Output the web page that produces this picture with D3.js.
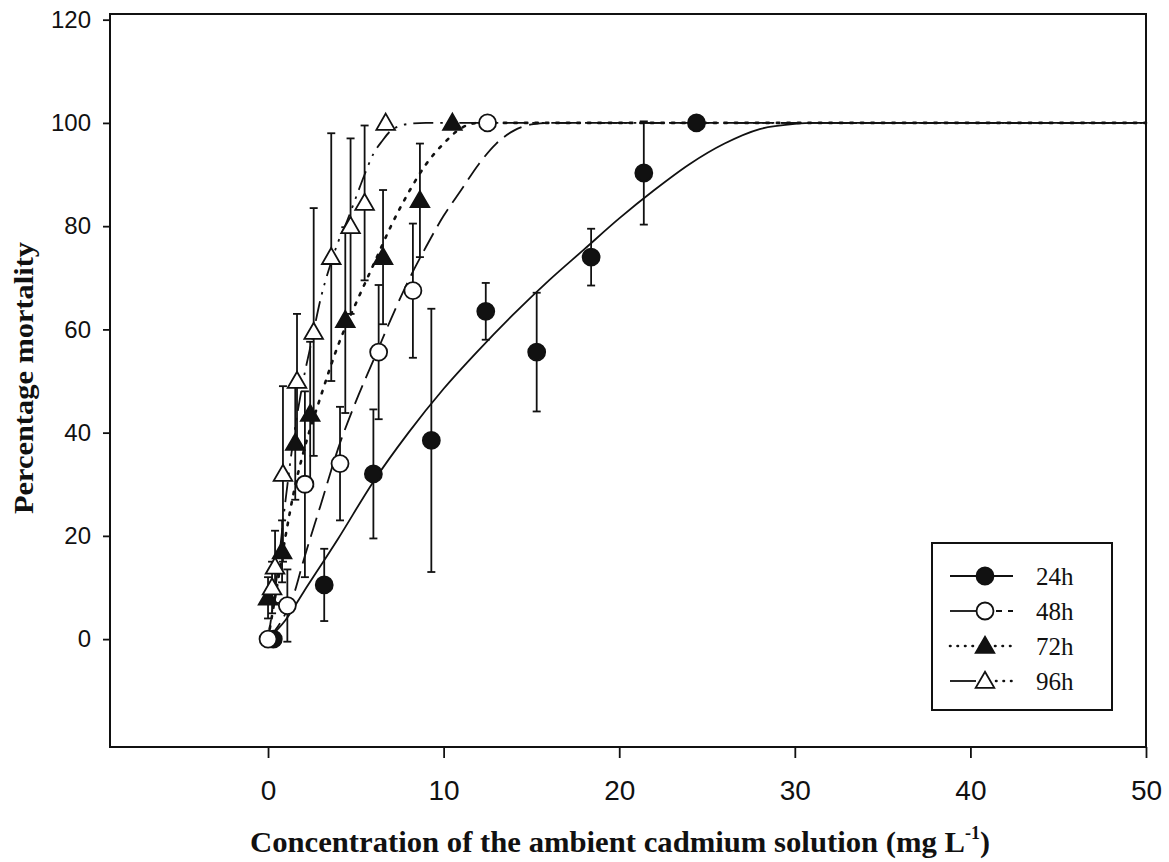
<!DOCTYPE html>
<html>
<head>
<meta charset="utf-8">
<script src="https://cdn.jsdelivr.net/npm/d3@7"></script>
<style>
  body { margin: 0; background: #fff; }
  svg { display: block; }
  .tick text { fill: #111; }
</style>
</head>
<body>
<svg width="1169" height="862"></svg>
<script>
// measured points (concentration mg/L, % mortality, error)
let x24 = [0.3, 3.2, 6.0, 9.3, 12.4, 15.3, 18.4, 21.4, 24.4];
let y24 = [0, 10.5, 32, 38.5, 63.5, 55.6, 74, 90.3, 100];
let e24 = [0, 7, 12.5, 25.5, 5.5, 11.5, 5.5, 10, 0];

let x48 = [0, 1.1, 2.1, 4.1, 6.3, 8.25, 12.5];
let y48 = [0, 6.5, 30, 34, 55.6, 67.5, 100];
let e48 = [0, 7, 18, 11, 13, 13, 0];

let x72 = [0.0, 0.8, 1.55, 2.4, 4.4, 6.55, 8.65, 10.5];
let y72 = [8, 17, 38, 43.6, 61.8, 74, 85, 100];
let e72 = [4, 6, 11, 14, 18, 13, 11, 0];

let x96 = [0.23, 0.4, 0.85, 1.65, 2.6, 3.6, 4.7, 5.5, 6.7];
let y96 = [10, 14, 32, 50, 59.5, 74, 80, 84.5, 100];
let e96 = [5, 7, 17, 13, 24, 24, 17, 15, 0];

// fitted curves
let fit24x = [0, 1, 2, 4, 6, 8, 10, 12, 14, 16, 18, 20, 22, 24, 26, 28, 30, 31, 50];
let fit24y = [0, 3.7, 9, 19.5, 30.5, 40, 48.5, 56, 63, 69.5, 75.5, 81.5, 87, 92, 96, 98.8, 99.8, 100, 100];
let fit48x = [0, 1, 1.5, 2, 3, 4, 5, 6, 7, 8, 9, 10, 11, 12, 13, 14, 15, 16, 50];
let fit48y = [0, 5, 9, 15, 26, 37, 46, 54, 62, 69.5, 76, 82, 87, 92, 96, 98.5, 99.7, 100, 100];
let fit72x = [0, 0.5, 1, 1.5, 2, 3, 4, 5, 6, 7, 8, 9, 10, 11, 12, 50];
let fit72y = [0, 10, 20, 29, 36, 47, 57, 65, 72.5, 80, 86.5, 92, 96, 99, 100, 100];
let fit96x = [0, 0.5, 1, 1.5, 2, 2.5, 3, 3.5, 4, 4.5, 5, 5.5, 6, 6.5, 7, 8, 9, 50];
let fit96y = [0, 12, 27, 40, 50, 58, 66, 72, 77, 81, 85.5, 90, 94, 96.5, 98.5, 99.8, 100, 100];

let seriesNames = ["24h", "48h", "72h", "96h"];
let xTicks = [0, 10, 20, 30, 40, 50];
let yTicks = [0, 20, 40, 60, 80, 100, 120];

function render() {
  let svg = d3.select("svg");
  let ink = "#111";

  let xMin = -9, xMax = 50, yMin = -20.9, yMax = 121.1;
  let xScale = d3.scaleLinear().domain([xMin, xMax]).range([110, 1146]);
  let yScale = d3.scaleLinear().domain([yMin, yMax]).range([747, 14]);

  let series = [
    {name: seriesNames[0], x: x24, y: y24, e: e24, fx: fit24x, fy: fit24y, shape: "circle", fill: ink, dash: null},
    {name: seriesNames[1], x: x48, y: y48, e: e48, fx: fit48x, fy: fit48y, shape: "circle", fill: "#fff", dash: "20,8"},
    {name: seriesNames[2], x: x72, y: y72, e: e72, fx: fit72x, fy: fit72y, shape: "triangle", fill: ink, dash: "2.5,8"},
    {name: seriesNames[3], x: x96, y: y96, e: e96, fx: fit96x, fy: fit96y, shape: "triangle", fill: "#fff", dash: "20,7,2.5,7,2.5,7"},
  ];

  // frame
  svg.append("rect")
    .attr("x", xScale(xMin)).attr("y", yScale(yMax))
    .attr("width", xScale(xMax) - xScale(xMin))
    .attr("height", yScale(yMin) - yScale(yMax))
    .attr("fill", "none").attr("stroke", ink).attr("stroke-width", 2);

  let xAxis = d3.axisBottom(xScale).tickValues(xTicks).tickSize(11).tickSizeOuter(0).tickPadding(22);
  let gX = svg.append("g").attr("transform", `translate(0, ${yScale(yMin)})`).call(xAxis);
  gX.select(".domain").remove();
  gX.selectAll(".tick line").attr("stroke", ink).attr("stroke-width", 1.8);
  gX.selectAll(".tick text")
    .attr("font-family", "'Liberation Sans Narrow', 'Arial Narrow', 'Liberation Sans', sans-serif")
    .attr("font-size", 28);

  let yAxis = d3.axisLeft(yScale).tickValues(yTicks).tickSize(7).tickSizeOuter(0).tickPadding(12);
  let gY = svg.append("g").attr("transform", `translate(${xScale(xMin)}, 0)`).call(yAxis);
  gY.select(".domain").remove();
  gY.selectAll(".tick line").attr("stroke", ink).attr("stroke-width", 1.8);
  gY.selectAll(".tick text")
    .attr("font-family", "'Liberation Sans', Arial, sans-serif")
    .attr("font-size", 24);

  // axis titles
  svg.append("text")
    .attr("transform", `translate(33, 378) rotate(-90)`)
    .attr("text-anchor", "middle")
    .attr("font-family", "'Liberation Serif', 'Times New Roman', serif")
    .attr("font-weight", "bold")
    .attr("font-size", 27)
    .attr("textLength", 272)
    .attr("lengthAdjust", "spacingAndGlyphs")
    .attr("fill", ink)
    .text("Percentage mortality");

  let xTitle = svg.append("text")
    .attr("x", 250).attr("y", 852)
    .attr("font-family", "'Liberation Serif', 'Times New Roman', serif")
    .attr("font-weight", "bold")
    .attr("font-size", 30)
    .attr("fill", ink);
  xTitle.append("tspan")
    .attr("textLength", 715)
    .attr("lengthAdjust", "spacingAndGlyphs")
    .text("Concentration of the ambient cadmium solution (mg L");
  xTitle.append("tspan").attr("font-size", 18).attr("dy", -13).text("-1");
  xTitle.append("tspan").attr("dy", 13).text(")");

  let line = d3.line().x(d => xScale(d[0])).y(d => yScale(d[1])).curve(d3.curveMonotoneX);

  // error bars
  let capW = 4;
  series.forEach(s => {
    let pts = s.x.map((v, i) => ({x: v, y: s.y[i], e: s.e[i]})).filter(d => d.e > 0);
    let g = svg.append("g").attr("stroke", ink).attr("stroke-width", 1.8);
    g.selectAll(".bar").data(pts).enter().append("line")
      .attr("x1", d => xScale(d.x)).attr("x2", d => xScale(d.x))
      .attr("y1", d => yScale(d.y - d.e)).attr("y2", d => yScale(d.y + d.e));
    g.selectAll(".capTop").data(pts).enter().append("line")
      .attr("x1", d => xScale(d.x) - capW).attr("x2", d => xScale(d.x) + capW)
      .attr("y1", d => yScale(d.y + d.e)).attr("y2", d => yScale(d.y + d.e));
    g.selectAll(".capBot").data(pts).enter().append("line")
      .attr("x1", d => xScale(d.x) - capW).attr("x2", d => xScale(d.x) + capW)
      .attr("y1", d => yScale(d.y - d.e)).attr("y2", d => yScale(d.y - d.e));
  });

  // fitted curves
  series.forEach(s => {
    let dotted = s.dash && s.dash.startsWith("2.5");
    svg.append("path")
      .datum(s.fx.map((v, i) => [v, s.fy[i]]))
      .attr("d", line)
      .attr("fill", "none")
      .attr("stroke", ink)
      .attr("stroke-width", dotted ? 2.6 : 1.8)
      .attr("stroke-linecap", dotted ? "round" : "butt")
      .attr("stroke-dasharray", s.dash);
  });

  let triangle = d3.symbol().type(d3.symbolTriangle).size(150);

  function drawMarker(g, s, px, py) {
    if (s.shape === "circle") {
      g.append("circle").attr("cx", px).attr("cy", py).attr("r", 8.5)
        .attr("fill", s.fill).attr("stroke", ink).attr("stroke-width", 1.8);
    } else {
      g.append("path").attr("d", triangle)
        .attr("transform", `translate(${px}, ${py + 1.5})`)
        .attr("fill", s.fill).attr("stroke", ink).attr("stroke-width", 1.8);
    }
  }

  series.forEach(s => {
    let g = svg.append("g");
    s.x.forEach((v, i) => drawMarker(g, s, xScale(v), yScale(s.y[i])));
  });

  // legend
  let lg = svg.append("g");
  lg.append("rect")
    .attr("x", 932).attr("y", 543).attr("width", 180).attr("height", 167)
    .attr("fill", "#fff").attr("stroke", ink).attr("stroke-width", 2);
  series.forEach((s, i) => {
    let ly = 576 + i * 35;
    let solidLead = i === 1 || i === 3;
    if (solidLead) {
      lg.append("line").attr("x1", 950).attr("x2", 976).attr("y1", ly).attr("y2", ly)
        .attr("stroke", ink).attr("stroke-width", 1.8);
      lg.append("line").attr("x1", 996).attr("x2", 1013).attr("y1", ly).attr("y2", ly)
        .attr("stroke", ink).attr("stroke-width", i === 3 ? 2.6 : 1.8)
        .attr("stroke-linecap", i === 3 ? "round" : "butt")
        .attr("stroke-dasharray", i === 3 ? "0.5,7" : "6,6");
    } else {
      lg.append("line").attr("x1", 950).attr("x2", 1013).attr("y1", ly).attr("y2", ly)
        .attr("stroke", ink).attr("stroke-width", s.dash ? 2.6 : 1.8)
        .attr("stroke-linecap", s.dash ? "round" : "butt")
        .attr("stroke-dasharray", s.dash ? "0.5,7" : null);
    }
    drawMarker(lg, s, 985, ly);
    lg.append("text")
      .attr("x", 1036).attr("y", ly)
      .attr("dominant-baseline", "central")
      .attr("font-family", "'Liberation Serif', 'Times New Roman', serif")
      .attr("font-size", 25)
      .attr("fill", ink)
      .text(s.name);
  });
}

render();
</script>
</body>
</html>
